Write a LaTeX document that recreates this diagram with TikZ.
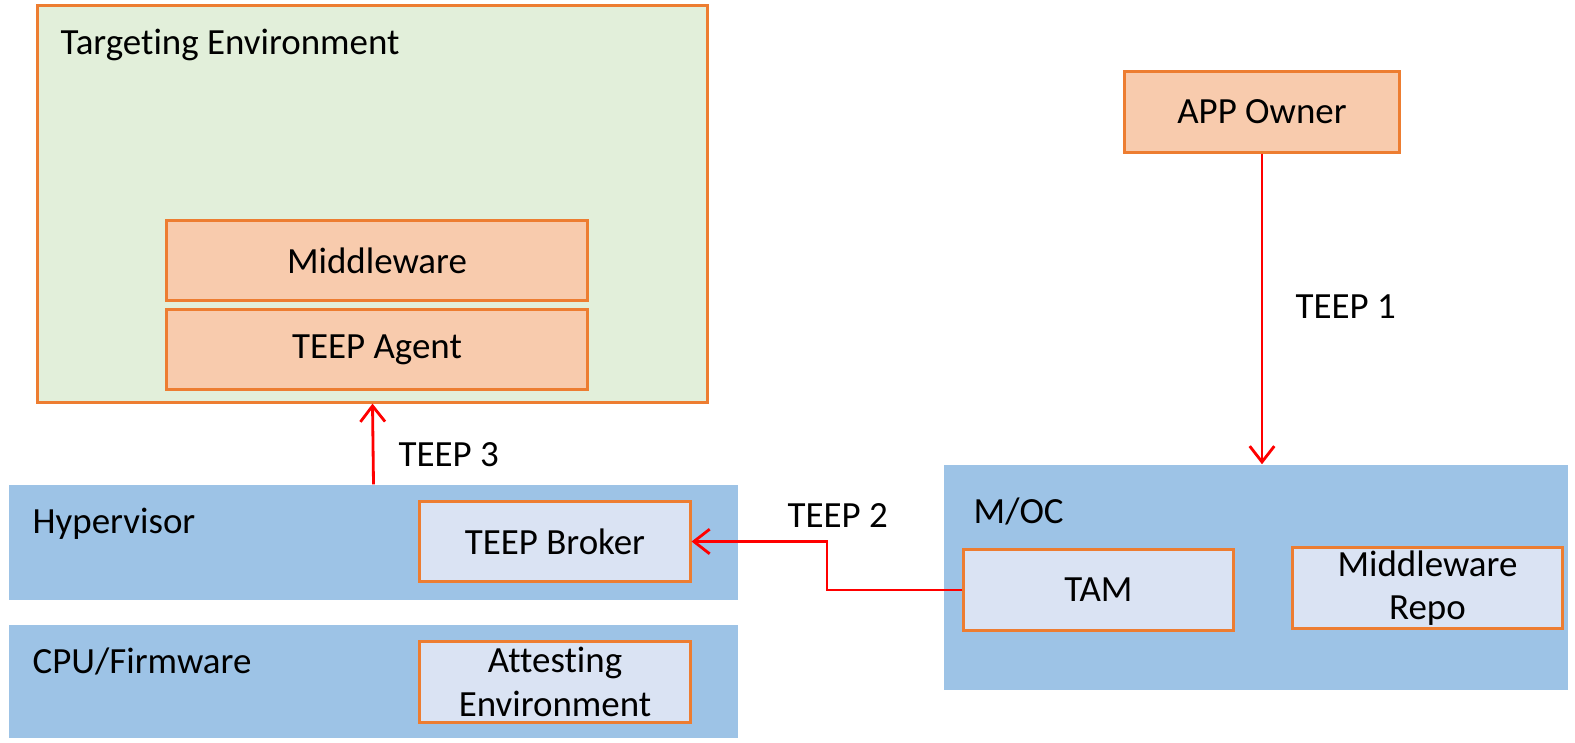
\documentclass[tikz,border=0pt]{standalone}
\usepackage{fontspec}
\setmainfont{Carlito}[Ligatures=NoCommon]
\usetikzlibrary{arrows.meta, positioning}

\definecolor{envgreen}{HTML}{E2EFDA}
\definecolor{boxorange}{HTML}{ED7D31}
\definecolor{peachfill}{HTML}{F8CBAD}
\definecolor{bandblue}{HTML}{9DC3E6}
\definecolor{paleblue}{HTML}{DAE3F3}

\begin{document}
\begin{tikzpicture}[x=0.01cm, y=-0.01cm, font=\fontsize{10.5}{12.3}\selectfont,
  box/.style={draw=boxorange, line width=0.85pt, inner sep=0pt, align=center},
  peachbox/.style={box, fill=peachfill},
  bluebox/.style={box, fill=paleblue},
  band/.style={fill=bandblue, inner sep=0pt},
  teep/.style={red, line width=0.8pt, -{Straight Barb[length=4.5pt,width=7pt]}},
  lbl/.style={anchor=west, inner sep=0pt},
  title/.style={anchor=base west, inner sep=0pt}]

\useasboundingbox[fill=white] (0,0) rectangle (1575,742);

% targeting environment
\node[box, fill=envgreen, minimum width=6.69cm, minimum height=3.96cm] (tenv) at (372.5,204) {};
\node[title] (tenvtitle) at (60,54) {Targeting Environment};
\node[peachbox, minimum width=4.2cm, minimum height=0.79cm] (mw) at (377,260.5) {Middleware};
\node[peachbox, minimum width=4.2cm, minimum height=0.79cm] (agent) at (377,349.5) {TEEP Agent};

% device layers
\node[band, minimum width=7.29cm, minimum height=1.15cm] (hyp) at (373.5,542.5) {};
\node[title] (hyptitle) at (32,533) {Hypervisor};
\node[bluebox, minimum width=2.7cm, minimum height=0.79cm] (broker) at (555,541.5) {TEEP Broker};

\node[band, minimum width=7.29cm, minimum height=1.13cm] (cpu) at (373.5,681.5) {};
\node[title] (cputitle) at (32,673) {CPU/Firmware};
\node[bluebox, minimum width=2.7cm, minimum height=0.8cm] (attest) at (555,682) {Attesting\\Environment};

% owner side
\node[peachbox, minimum width=2.74cm, minimum height=0.8cm] (owner) at (1262,112) {APP Owner};

\node[band, minimum width=6.24cm, minimum height=2.25cm] (moc) at (1256,577.5) {};
\node[title] (moctitle) at (973,523) {M/OC};
\node[bluebox, minimum width=2.69cm, minimum height=0.8cm] (tam) at (1098.5,590) {TAM};
\node[bluebox, minimum width=2.69cm, minimum height=0.8cm] (repo) at (1427.5,588) {Middleware\\Repo};

% protocols
\coordinate (bend) at (827,0);
\draw[teep] (owner.south) -- (owner.south |- moc.north);
\draw[teep] (tam.west) -- (tam.west -| bend) |- (broker.east);
\draw[teep] (hyp.north) -- (tenv.south);

\node[lbl] (t1) at (1295,307) {TEEP 1};
\node[lbl] (t2) at (787,516) {TEEP 2};
\node[lbl] (t3) at (398,455) {TEEP 3};

\end{tikzpicture}
\end{document}
